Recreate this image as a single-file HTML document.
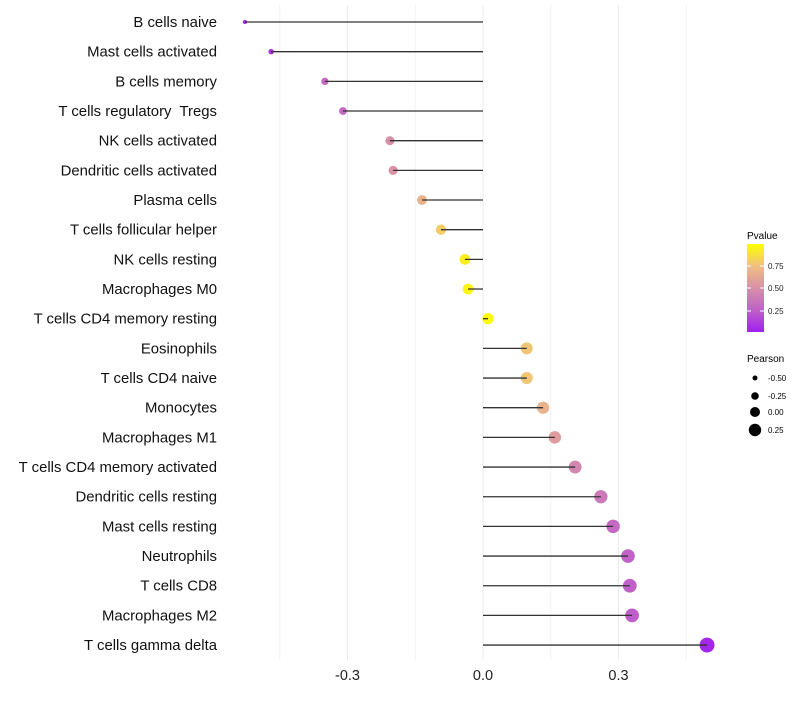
<!DOCTYPE html>
<html><head><meta charset="utf-8"><style>
body{margin:0;background:#fff;font-family:"Liberation Sans",sans-serif}
</style></head><body>
<svg id="chart" width="800" height="700" xmlns="http://www.w3.org/2000/svg">
<defs>
<linearGradient id="pg" x1="0" y1="1" x2="0" y2="0">
<stop offset="0" stop-color="#A020F0"/><stop offset="0.25" stop-color="#C060C8"/><stop offset="0.5" stop-color="#D890A8"/><stop offset="0.75" stop-color="#F0C080"/><stop offset="1" stop-color="#FFFF00"/>
</linearGradient>
</defs>
<g id="grid"></g><g id="points"></g><g id="marks"></g><g id="labels"></g>
<g>
<text x="747" y="239" font-size="10" fill="#000">Pvalue</text>
<rect x="747" y="244" width="17" height="88" fill="url(#pg)"/>
<g font-size="8" fill="#222">
<line x1="747" x2="751" y1="266" y2="266" stroke="#fff"/><line x1="760" x2="764" y1="266" y2="266" stroke="#fff"/>
<line x1="747" x2="751" y1="288" y2="288" stroke="#fff"/><line x1="760" x2="764" y1="288" y2="288" stroke="#fff"/>
<line x1="747" x2="751" y1="311" y2="311" stroke="#fff"/><line x1="760" x2="764" y1="311" y2="311" stroke="#fff"/>
<text x="768" y="269">0.75</text><text x="768" y="291">0.50</text><text x="768" y="314">0.25</text>
</g>
</g>
<g font-size="8" fill="#000">
<text x="747" y="362" font-size="10">Pearson</text>
<circle cx="755" cy="378" r="2.5"/><text x="768" y="381">-0.50</text>
<circle cx="755" cy="396" r="3.8"/><text x="768" y="399">-0.25</text>
<circle cx="755" cy="412" r="5"/><text x="768" y="415">0.00</text>
<circle cx="755" cy="430" r="6.2"/><text x="768" y="433">0.25</text>
</g>
</svg>
<script>
const categories=["B cells naive","Mast cells activated","B cells memory","T cells regulatory  Tregs","NK cells activated","Dendritic cells activated","Plasma cells","T cells follicular helper","NK cells resting","Macrophages M0","T cells CD4 memory resting","Eosinophils","T cells CD4 naive","Monocytes","Macrophages M1","T cells CD4 memory activated","Dendritic cells resting","Mast cells resting","Neutrophils","T cells CD8","Macrophages M2","T cells gamma delta"];
const pearson=[-0.527,-0.469,-0.35,-0.31,-0.206,-0.199,-0.135,-0.093,-0.04,-0.033,0.011,0.097,0.097,0.133,0.159,0.204,0.261,0.288,0.321,0.325,0.330,0.496];
const pvalue=[0.05,0.08,0.3,0.3,0.5,0.52,0.68,0.8,0.93,0.96,0.99,0.77,0.77,0.68,0.56,0.45,0.38,0.3,0.26,0.25,0.24,0.03];
const xTicks=[-0.3,0,0.3];
const xTickLabels=["-0.3","0.0","0.3"];
const xMinor=[-0.45,-0.15,0.15,0.45];
const NS="http://www.w3.org/2000/svg";
const x=v=>483+v*451.7;
const y=i=>22+i*29.67;
const rad=v=>Math.sqrt(Math.max(2,31+50*v));
const stops=[[0,[160,32,240]],[0.25,[192,96,200]],[0.5,[216,144,168]],[0.75,[240,192,128]],[1,[255,255,0]]];
function col(p){for(let k=1;k<stops.length;k++){if(p<=stops[k][0]){const a=stops[k-1],b=stops[k],t=(p-a[0])/(b[0]-a[0]);return "rgb("+a[1].map((c,j)=>Math.round(c+(b[1][j]-c)*t)).join(",")+")";}}return "rgb(255,255,0)";}
function mk(tag,at,parent){const e=document.createElementNS(NS,tag);for(const k in at)e.setAttribute(k,at[k]);document.getElementById(parent).appendChild(e);return e;}
xMinor.forEach(v=>{const l=mk("line",{x1:x(v),x2:x(v),y1:5,y2:660,stroke:"#f2f2f2","stroke-width":1},"grid");

});
xTicks.forEach((v,i)=>{const l=mk("line",{x1:x(v),x2:x(v),y1:5,y2:660,stroke:"#ebebeb","stroke-width":1},"grid");


const t=mk("text",{x:x(v),y:680,"text-anchor":"middle","font-size":"14.5",fill:"#222"},"labels");t.textContent=xTickLabels[i];

});
categories.forEach((c,i)=>{
const p=mk("circle",{cx:x(pearson[i]),cy:y(i),r:rad(pearson[i]),fill:col(pvalue[i])},"points");


const l=mk("line",{x1:x(0),x2:x(pearson[i]),y1:y(i),y2:y(i),stroke:"#333","stroke-width":1.3},"marks");


const t=mk("text",{x:217,y:y(i)+5,"text-anchor":"end","font-size":"14.9",fill:"#111",style:"white-space:pre"},"labels");t.textContent=c;


});
</script>
</body></html>
